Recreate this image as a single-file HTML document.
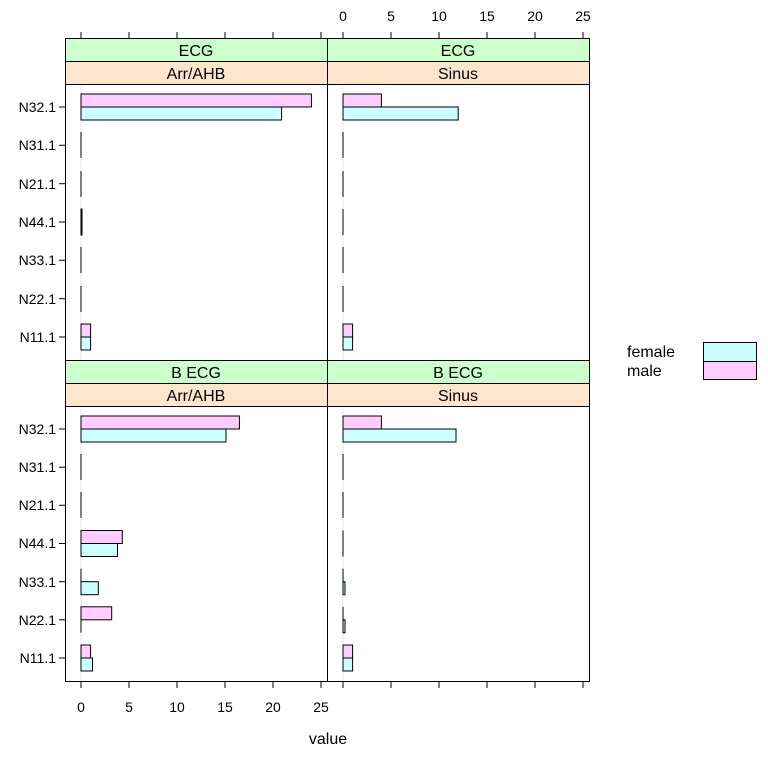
<!DOCTYPE html>
<html><head><meta charset="utf-8"><style>
html,body{margin:0;padding:0;background:#fff}
svg text{font-family:"Liberation Sans",sans-serif;fill:#000}
</style></head><body>
<svg width="768" height="757" viewBox="0 0 768 757" xmlns="http://www.w3.org/2000/svg">
<g stroke="#000" stroke-width="1" fill="none">
<rect x="65.5" y="38.5" width="262" height="23" fill="#ccffcc"/>
<rect x="327.5" y="38.5" width="262" height="23" fill="#ccffcc"/>
<rect x="65.5" y="61.5" width="262" height="23" fill="#ffe5cc"/>
<rect x="327.5" y="61.5" width="262" height="23" fill="#ffe5cc"/>
<rect x="65.5" y="360.5" width="262" height="23" fill="#ccffcc"/>
<rect x="327.5" y="360.5" width="262" height="23" fill="#ccffcc"/>
<rect x="65.5" y="383.5" width="262" height="23" fill="#ffe5cc"/>
<rect x="327.5" y="383.5" width="262" height="23" fill="#ffe5cc"/>
</g>
<g stroke="#e6e6e6">
<line x1="81" y1="85" x2="81" y2="360"/><line x1="343" y1="85" x2="343" y2="360"/>
<line x1="81" y1="407" x2="81" y2="681"/><line x1="343" y1="407" x2="343" y2="681"/>
</g>
<g stroke="#000" stroke-width="1">
<rect x="65.5" y="84.5" width="262" height="276" fill="none"/>
<rect x="327.5" y="84.5" width="262" height="276" fill="none"/>
<rect x="65.5" y="406.5" width="262" height="275" fill="none"/>
<rect x="327.5" y="406.5" width="262" height="275" fill="none"/>
</g>
<g stroke="#000" stroke-width="1">
<rect x="81" y="94" width="230.4" height="13" fill="#ffccff"/>
<rect x="81" y="107" width="200.6" height="13" fill="#ccffff"/>
<line x1="81" y1="132" x2="81" y2="158"/>
<line x1="81" y1="171" x2="81" y2="197"/>
<rect x="81" y="209" width="1" height="26" fill="#ccffff"/>
<line x1="81" y1="247" x2="81" y2="273"/>
<line x1="81" y1="286" x2="81" y2="312"/>
<rect x="81" y="324" width="9.6" height="13" fill="#ffccff"/>
<rect x="81" y="337" width="9.6" height="13" fill="#ccffff"/>
<rect x="343" y="94" width="38.4" height="13" fill="#ffccff"/>
<rect x="343" y="107" width="115.2" height="13" fill="#ccffff"/>
<line x1="343" y1="132" x2="343" y2="158"/>
<line x1="343" y1="171" x2="343" y2="197"/>
<line x1="343" y1="209" x2="343" y2="235"/>
<line x1="343" y1="247" x2="343" y2="273"/>
<line x1="343" y1="286" x2="343" y2="312"/>
<rect x="343" y="324" width="9.6" height="13" fill="#ffccff"/>
<rect x="343" y="337" width="9.6" height="13" fill="#ccffff"/>
<rect x="81" y="416" width="158.4" height="13" fill="#ffccff"/>
<rect x="81" y="429" width="145" height="13" fill="#ccffff"/>
<line x1="81" y1="454" x2="81" y2="480"/>
<line x1="81" y1="492" x2="81" y2="518"/>
<rect x="81" y="530.5" width="41.3" height="13" fill="#ffccff"/>
<rect x="81" y="543.5" width="36.5" height="13" fill="#ccffff"/>
<line x1="81" y1="568.7" x2="81" y2="581.7"/>
<rect x="81" y="581.7" width="17.3" height="13" fill="#ccffff"/>
<rect x="81" y="606.8" width="30.7" height="13" fill="#ffccff"/>
<line x1="81" y1="619.8" x2="81" y2="632.8"/>
<rect x="81" y="645" width="9.6" height="13" fill="#ffccff"/>
<rect x="81" y="658" width="11.5" height="13" fill="#ccffff"/>
<rect x="343" y="416" width="38.4" height="13" fill="#ffccff"/>
<rect x="343" y="429" width="113" height="13" fill="#ccffff"/>
<line x1="343" y1="454" x2="343" y2="480"/>
<line x1="343" y1="492" x2="343" y2="518"/>
<line x1="343" y1="530.5" x2="343" y2="556.5"/>
<line x1="343" y1="568.7" x2="343" y2="581.7"/>
<rect x="343" y="581.7" width="2" height="13" fill="#ccffff"/>
<line x1="343" y1="606.8" x2="343" y2="619.8"/>
<rect x="343" y="619.8" width="2" height="13" fill="#ccffff"/>
<rect x="343" y="645" width="9.6" height="13" fill="#ffccff"/>
<rect x="343" y="658" width="9.6" height="13" fill="#ccffff"/>
</g>
<g stroke="#000" stroke-width="1">
<line x1="81" y1="32" x2="81" y2="38"/><line x1="129" y1="32" x2="129" y2="38"/><line x1="177" y1="32" x2="177" y2="38"/><line x1="225" y1="32" x2="225" y2="38"/><line x1="273" y1="32" x2="273" y2="38"/><line x1="321" y1="32" x2="321" y2="38"/>
<line x1="343" y1="32" x2="343" y2="38"/><line x1="391" y1="32" x2="391" y2="38"/><line x1="439" y1="32" x2="439" y2="38"/><line x1="487" y1="32" x2="487" y2="38"/><line x1="535" y1="32" x2="535" y2="38"/><line x1="583" y1="32" x2="583" y2="38"/>
<line x1="81" y1="682" x2="81" y2="688"/><line x1="129" y1="682" x2="129" y2="688"/><line x1="177" y1="682" x2="177" y2="688"/><line x1="225" y1="682" x2="225" y2="688"/><line x1="273" y1="682" x2="273" y2="688"/><line x1="321" y1="682" x2="321" y2="688"/>
<line x1="343" y1="682" x2="343" y2="688"/><line x1="391" y1="682" x2="391" y2="688"/><line x1="439" y1="682" x2="439" y2="688"/><line x1="487" y1="682" x2="487" y2="688"/><line x1="535" y1="682" x2="535" y2="688"/><line x1="583" y1="682" x2="583" y2="688"/>
<line x1="59" y1="107" x2="65" y2="107"/><line x1="59" y1="145.3" x2="65" y2="145.3"/><line x1="59" y1="183.7" x2="65" y2="183.7"/><line x1="59" y1="222" x2="65" y2="222"/><line x1="59" y1="260.3" x2="65" y2="260.3"/><line x1="59" y1="298.7" x2="65" y2="298.7"/><line x1="59" y1="337" x2="65" y2="337"/>
<line x1="59" y1="429" x2="65" y2="429"/><line x1="59" y1="467.2" x2="65" y2="467.2"/><line x1="59" y1="505.3" x2="65" y2="505.3"/><line x1="59" y1="543.5" x2="65" y2="543.5"/><line x1="59" y1="581.7" x2="65" y2="581.7"/><line x1="59" y1="619.8" x2="65" y2="619.8"/><line x1="59" y1="658" x2="65" y2="658"/>
</g>
<g font-size="16" text-anchor="middle">
<text x="196" y="56">ECG</text><text x="458" y="56">ECG</text>
<text x="196" y="79">Arr/AHB</text><text x="458" y="79">Sinus</text>
<text x="196" y="378">B ECG</text><text x="458" y="378">B ECG</text>
<text x="196" y="401">Arr/AHB</text><text x="458" y="401">Sinus</text>
</g>
<g font-size="14" text-anchor="middle">
<text x="343" y="21">0</text><text x="391" y="21">5</text><text x="439" y="21">10</text><text x="487" y="21">15</text><text x="535" y="21">20</text><text x="583" y="21">25</text>
<text x="81" y="712">0</text><text x="129" y="712">5</text><text x="177" y="712">10</text><text x="225" y="712">15</text><text x="273" y="712">20</text><text x="321" y="712">25</text>
</g>
<g font-size="14" text-anchor="end">
<text x="56" y="112">N32.1</text><text x="56" y="150">N31.1</text><text x="56" y="189">N21.1</text><text x="56" y="227">N44.1</text><text x="56" y="265">N33.1</text><text x="56" y="304">N22.1</text><text x="56" y="342">N11.1</text>
<text x="56" y="434">N32.1</text><text x="56" y="472">N31.1</text><text x="56" y="510">N21.1</text><text x="56" y="548">N44.1</text><text x="56" y="587">N33.1</text><text x="56" y="625">N22.1</text><text x="56" y="663">N11.1</text>
</g>
<text x="328" y="744" font-size="16" text-anchor="middle">value</text>
<text x="627" y="357" font-size="16">female</text>
<text x="627" y="376" font-size="16">male</text>
<rect x="703.5" y="342.5" width="53" height="19" fill="#ccffff" stroke="#000"/>
<rect x="703.5" y="361.5" width="53" height="18" fill="#ffccff" stroke="#000"/>
</svg>
</body></html>
